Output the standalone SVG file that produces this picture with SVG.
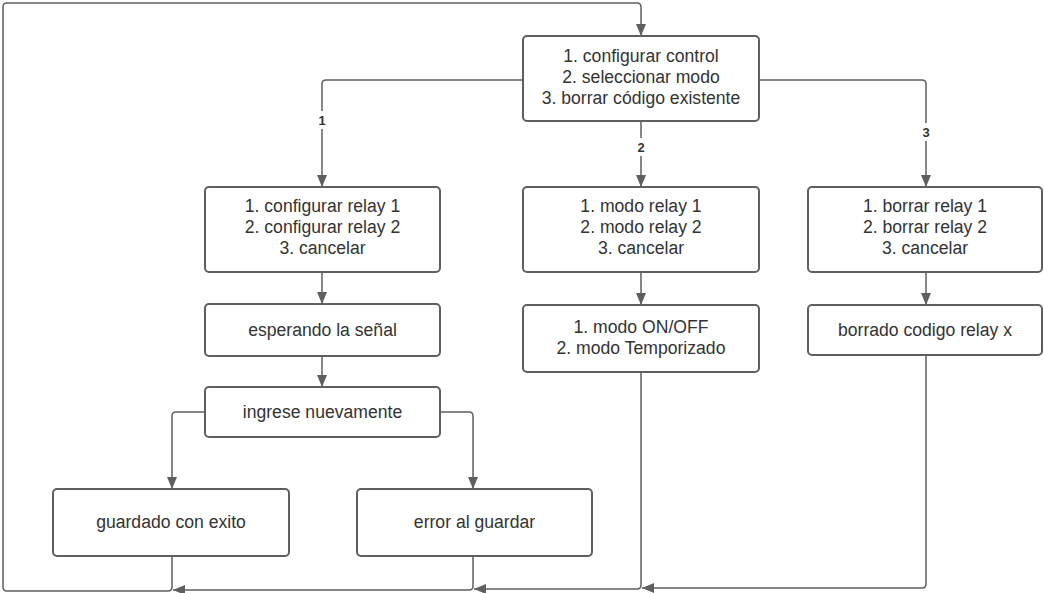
<svg xmlns="http://www.w3.org/2000/svg" width="1044" height="593" viewBox="0 0 1044 593">
<defs>
<style>
.box{fill:#fff;stroke:#5f5f5f;stroke-width:2}
.t{font-family:"Liberation Sans",Arial,sans-serif;font-size:17.6px;fill:#333;text-anchor:middle}
.c{fill:none;stroke:#5f5f5f;stroke-width:1.5}
.lbl{font-family:"Liberation Sans",Arial,sans-serif;font-size:13px;font-weight:bold;fill:#333;text-anchor:middle}
.lb{fill:#fff}
</style>
<marker id="arr" markerWidth="12" markerHeight="10" refX="12" refY="5" orient="auto" markerUnits="userSpaceOnUse">
<path d="M0,0 L12,5 L0,10 Z" fill="#5f5f5f"/>
</marker>
</defs>
<rect width="1044" height="593" fill="#fff"/>
<g id="connectors">
<path class="c" d="M172,556 L172,587 Q172,591 168,591 L7,591 Q3,591 3,587 L3,7 Q3,3 7,3 L637,3 Q641,3 641,7 L641,36" marker-end="url(#arr)"/>
<path class="c" d="M523,80 L326,80 Q322,80 322,84 L322,187" marker-end="url(#arr)"/>
<path class="c" d="M641,121 L641,187" marker-end="url(#arr)"/>
<path class="c" d="M759,80 L922,80 Q926,80 926,84 L926,187" marker-end="url(#arr)"/>
<path class="c" d="M322,272 L322,304" marker-end="url(#arr)"/>
<path class="c" d="M322,356 L322,387" marker-end="url(#arr)"/>
<path class="c" d="M641,272 L641,305" marker-end="url(#arr)"/>
<path class="c" d="M926,272 L926,305" marker-end="url(#arr)"/>
<path class="c" d="M205,412 L176,412 Q172,412 172,416 L172,489" marker-end="url(#arr)"/>
<path class="c" d="M440,412 L469,412 Q473,412 473,416 L473,489" marker-end="url(#arr)"/>
<path class="c" d="M473,556 L473,586 Q473,590 469,590 L173,590" marker-end="url(#arr)"/>
<path class="c" d="M641,372 L641,585 Q641,589 637,589 L474,589" marker-end="url(#arr)"/>
<path class="c" d="M926,355 L926,584 Q926,588 922,588 L642,588" marker-end="url(#arr)"/>
<rect class="lb" x="316" y="111" width="12" height="18"/>
<text class="lbl" x="322" y="125">1</text>
<rect class="lb" x="635" y="138" width="12" height="18"/>
<text class="lbl" x="641" y="152">2</text>
<rect class="lb" x="920" y="123" width="12" height="18"/>
<text class="lbl" x="926" y="137">3</text>
</g>
<g id="n0">
<rect class="box" x="523" y="36" width="236" height="85" rx="4"/>
<text class="t" x="641" y="62">1. configurar control</text>
<text class="t" x="641" y="83">2. seleccionar modo</text>
<text class="t" x="641" y="104">3. borrar código existente</text>
</g>
<g id="n1">
<rect class="box" x="205" y="187" width="235" height="85" rx="4"/>
<text class="t" x="322.5" y="212">1. configurar relay 1</text>
<text class="t" x="322.5" y="233">2. configurar relay 2</text>
<text class="t" x="322.5" y="254">3. cancelar</text>
</g>
<g id="n2">
<rect class="box" x="523" y="187" width="236" height="85" rx="4"/>
<text class="t" x="641" y="212">1. modo relay 1</text>
<text class="t" x="641" y="233">2. modo relay 2</text>
<text class="t" x="641" y="254">3. cancelar</text>
</g>
<g id="n3">
<rect class="box" x="808" y="187" width="234" height="85" rx="4"/>
<text class="t" x="925" y="212">1. borrar relay 1</text>
<text class="t" x="925" y="233">2. borrar relay 2</text>
<text class="t" x="925" y="254">3. cancelar</text>
</g>
<g id="n4">
<rect class="box" x="205" y="304" width="235" height="52" rx="4"/>
<text class="t" x="322.5" y="336">esperando la señal</text>
</g>
<g id="n5">
<rect class="box" x="205" y="387" width="235" height="50" rx="4"/>
<text class="t" x="322.5" y="418">ingrese nuevamente</text>
</g>
<g id="n6">
<rect class="box" x="523" y="305" width="236" height="67" rx="4"/>
<text class="t" x="641" y="333">1. modo ON/OFF</text>
<text class="t" x="641" y="354">2. modo Temporizado</text>
</g>
<g id="n7">
<rect class="box" x="808" y="305" width="234" height="50" rx="4"/>
<text class="t" x="925" y="336">borrado codigo relay x</text>
</g>
<g id="n8">
<rect class="box" x="53" y="489" width="236" height="67" rx="4"/>
<text class="t" x="171" y="528">guardado con exito</text>
</g>
<g id="n9">
<rect class="box" x="357" y="489" width="235" height="67" rx="4"/>
<text class="t" x="474.5" y="528">error al guardar</text>
</g>
</svg>
